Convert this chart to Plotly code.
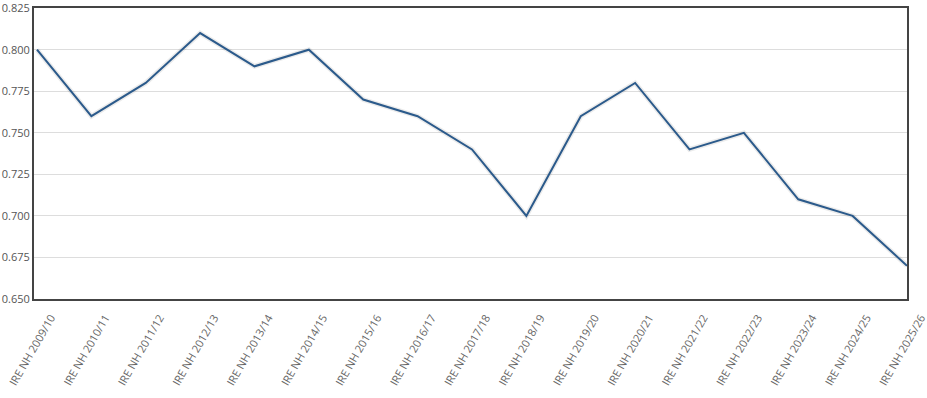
import plotly.graph_objects as go

categories = ["IRE NH 2009/10", "IRE NH 2010/11", "IRE NH 2011/12", "IRE NH 2012/13",
              "IRE NH 2013/14", "IRE NH 2014/15", "IRE NH 2015/16", "IRE NH 2016/17",
              "IRE NH 2017/18", "IRE NH 2018/19", "IRE NH 2019/20", "IRE NH 2020/21",
              "IRE NH 2021/22", "IRE NH 2022/23", "IRE NH 2023/24", "IRE NH 2024/25",
              "IRE NH 2025/26"]
values = [0.80, 0.76, 0.78, 0.81, 0.79, 0.80, 0.77, 0.76, 0.74, 0.70,
          0.76, 0.78, 0.74, 0.75, 0.71, 0.70, 0.67]
y_ticks = [0.650, 0.675, 0.700, 0.725, 0.750, 0.775, 0.800, 0.825]

x_idx = list(range(len(categories)))

fig = go.Figure()
fig.add_trace(go.Scatter(x=x_idx, y=values, mode="lines",
                         line=dict(color="rgba(0,0,0,0.08)", width=5),
                         hoverinfo="skip", showlegend=False))
fig.add_trace(go.Scatter(x=x_idx, y=values, mode="lines",
                         line=dict(color="#2b5a8b", width=2), showlegend=False))

fig.update_layout(
    width=927, height=398,
    margin=dict(l=34, r=20, t=8, b=99),
    paper_bgcolor="white", plot_bgcolor="white",
    font=dict(family="Open Sans", size=11, color="#555555"),
    xaxis=dict(range=[-0.055, 16], tickmode="array", tickvals=x_idx, ticktext=categories,
               tickangle=-60, showgrid=False, zeroline=False, automargin=False,
               ticklabeloverflow="allow", ticks="outside", ticklen=6, tickcolor="white",
               ticklabelshift=14,
               showline=True, mirror=True, linecolor="#444444", linewidth=2,
               tickfont=dict(size=11, color="#666666")),
    yaxis=dict(range=[0.65, 0.8251], tickmode="array", tickvals=y_ticks,
               ticktext=[f"{v:.3f}" for v in y_ticks], automargin=False,
               ticklabeloverflow="allow",
               showgrid=True, gridcolor="#dddddd", gridwidth=1, zeroline=False,
               showline=True, mirror=True, linecolor="#444444", linewidth=2,
               tickfont=dict(size=11, color="#555555"), ticks="", ticklen=0),
)

fig.write_html("out.html", config={"displayModeBar": False},
               post_script="document.body.style.margin='0';")
